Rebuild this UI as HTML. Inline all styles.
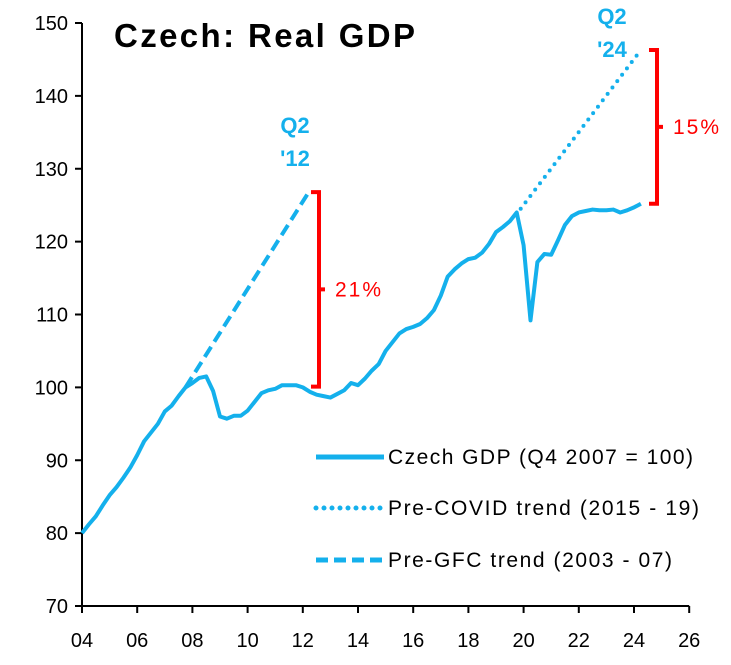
<!DOCTYPE html>
<html><head><meta charset="utf-8"><style>
body{margin:0;background:#fff;font-family:"Liberation Sans",sans-serif}
svg text{font-family:"Liberation Sans",sans-serif}
</style></head><body>
<svg id="c" width="731" height="660"></svg>
<script>
const startYear=2004;
const gdp=[80,81.2,82.3,83.8, 85.2,86.3,87.6,89.0, 90.7,92.6,93.8,95.0, 96.7,97.5,98.8,100,
100.6,101.3,101.5,99.5, 96.0,95.7,96.1,96.1, 96.8,98.0,99.2,99.6, 99.8,100.3,100.3,100.3,
100.0,99.4,99.0,98.8, 98.6,99.1,99.6,100.6, 100.3,101.2,102.3,103.2, 105.0,106.2,107.4,108.0,
108.3,108.7,109.5,110.6, 112.6,115.2,116.2,117.0, 117.6,117.8,118.5,119.7, 121.3,122.0,122.8,124.0,
119.5,109.2,117.2,118.3, 118.2,120.2,122.3,123.5, 124.0,124.2,124.4,124.3, 124.3,124.4,124.0,124.3,
124.7,125.2];
const gfcTrend=[[15,100],[33,127]];
const covidTrend=[[63,124.1],[81,146.3]];
const yTicks=[70,80,90,100,110,120,130,140,150];
const xTickLabels=["04","06","08","10","12","14","16","18","20","22","24","26"];
const NS="http://www.w3.org/2000/svg";
const svg=document.getElementById('c');
const X=i=>82+i*6.9;
const Y=v=>606-(v-70)*7.2875;
function el(t,a,p){const e=document.createElementNS(NS,t);for(const k in a)e.setAttribute(k,a[k]);(p||svg).appendChild(e);return e;}
function tx(s,a){const e=el('text',a);e.textContent=s;return e;}
const ax=el('path',{d:`M82 ${Y(150)}V606H${X(88)}`,stroke:'#000','stroke-width':2,fill:'none'});


yTicks.forEach(v=>{
  el('line',{x1:75,x2:82,y1:Y(v),y2:Y(v),stroke:'#000','stroke-width':2});
  const t=tx(v,{x:68,y:Y(v)+7,'text-anchor':'end','font-size':20});
  
  
});
xTickLabels.forEach((s,k)=>{
  const x=X(k*8);
  el('line',{x1:x,x2:x,y1:606,y2:613,stroke:'#000','stroke-width':2});
  const t=tx(s,{x:x,y:647,'text-anchor':'middle','font-size':20});
  
  
});
const g1=el('path',{d:`M${X(gfcTrend[0][0])} ${Y(gfcTrend[0][1])}L${X(gfcTrend[1][0])} ${Y(gfcTrend[1][1])}`,stroke:'#14b0ec','stroke-width':4,'stroke-dasharray':'12 6',fill:'none'});


const g2=el('path',{d:`M${X(covidTrend[0][0])+4} ${Y(covidTrend[0][1])-3}L${X(covidTrend[1][0])} ${Y(covidTrend[1][1])}`,stroke:'#14b0ec','stroke-width':4,'stroke-dasharray':'0 8','stroke-linecap':'round',fill:'none'});


const gl=el('path',{d:gdp.map((v,i)=>(i?'L':'M')+X(i)+' '+Y(v)).join(''),stroke:'#14b0ec','stroke-width':4,fill:'none','stroke-linejoin':'round'});


function bracket(x,y1,y2,label,name){
  const ym=(y1+y2)/2;
  const p=el('path',{d:`M${x-8} ${y1}H${x}V${y2}H${x-8}M${x} ${ym}H${x+6}`,stroke:'#f00','stroke-width':4,fill:'none'});
  
  
  const t=tx(label,{x:x+16,y:ym+7,'font-size':21,fill:'#f00',textLength:46});
  
  
}
bracket(319,Y(126.8),Y(100.1),'21%','gfc-gap-bracket');
bracket(657,Y(146.3),Y(125.2),'15%','covid-gap-bracket');
[['Q2',295,133],["'12",295,166],['Q2',612,24],["'24",612,57]].forEach(a=>{
  const t=tx(a[0],{x:a[1],y:a[2],'text-anchor':'middle','font-size':22,'font-weight':'bold',fill:'#14b0ec'});
  
  
});
const ti=tx('Czech: Real GDP',{x:114,y:47,'font-size':33,'font-weight':'bold',textLength:301});


[['Czech GDP (Q4 2007 = 100)',457,'none',305],['Pre-COVID trend (2015 - 19)',508,'0 8',311],['Pre-GFC trend (2003 - 07)',560,'12 6',284]].forEach(l=>{
  const g=el('g',{});
  
  
  el('line',{x1:316,x2:384,y1:l[1],y2:l[1],stroke:'#14b0ec','stroke-width':5,'stroke-dasharray':l[2],'stroke-linecap':l[2]==='0 8'?'round':'butt'},g);
  const t=el('text',{x:388,y:l[1]+7,'font-size':21,textLength:l[3]},g);t.textContent=l[0];
});
</script>
</body></html>
